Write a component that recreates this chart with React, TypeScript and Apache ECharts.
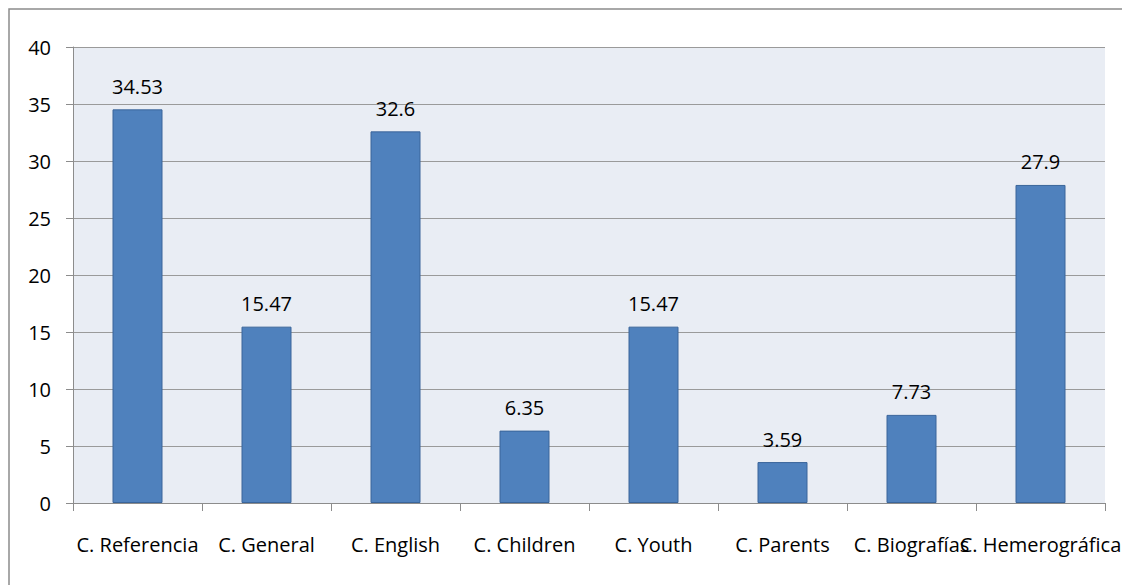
import React, { useEffect, useRef } from "react";
import * as echarts from "echarts";

const categories = ["C. Referencia", "C. General", "C. English", "C. Children", "C. Youth", "C. Parents", "C. Biografías", "C. Hemerográfica"];
const values = [34.53, 15.47, 32.6, 6.35, 15.47, 3.59, 7.73, 27.9];

const FONT = "'Open Sans', 'Noto Sans', sans-serif";

export default function App() {
  const ref = useRef<HTMLDivElement>(null);
  useEffect(() => {
    const chart = echarts.init(ref.current!, undefined, { renderer: "svg" });
    chart.setOption({
      animation: false,
      backgroundColor: "#ffffff",
      graphic: [
        {
          type: "rect",
          shape: { x: 1, y: 1, width: 1300, height: 800 },
          style: { fill: "none", stroke: "#8c8c8c", lineWidth: 1.5 },
          silent: true,
          z: 100,
        },
      ],
      grid: { left: 65, top: 39, width: 1032, height: 456, backgroundColor: "#E9EDF4", show: true, borderWidth: 0 },
      xAxis: {
        type: "category",
        data: categories,
        axisLine: { lineStyle: { color: "#8c8c8c", width: 1 } },
        axisTick: { show: true, length: 8, lineStyle: { color: "#8c8c8c" } },
        axisLabel: { interval: 0, margin: 31, color: "#000", fontSize: 20, fontFamily: FONT },
      },
      yAxis: {
        type: "value",
        min: 0,
        max: 40,
        interval: 5,
        axisLine: { show: true, lineStyle: { color: "#8c8c8c", width: 1 } },
        axisTick: { show: true, length: 7, lineStyle: { color: "#8c8c8c" } },
        splitLine: { lineStyle: { color: "#9a9a9a", width: 1 } },
        axisLabel: { margin: 22, color: "#000", fontSize: 20, fontFamily: FONT },
      },
      series: [
        {
          type: "bar",
          data: values,
          barWidth: 50,
          itemStyle: { color: "#4F81BD", borderColor: "#3A659A", borderWidth: 1 },
          label: { show: true, position: "top", distance: 13, color: "#000", fontSize: 20, fontFamily: FONT },
        },
      ],
    });
    return () => chart.dispose();
  }, []);
  return <div ref={ref} style={{ width: 1122, height: 577 }} />;
}
